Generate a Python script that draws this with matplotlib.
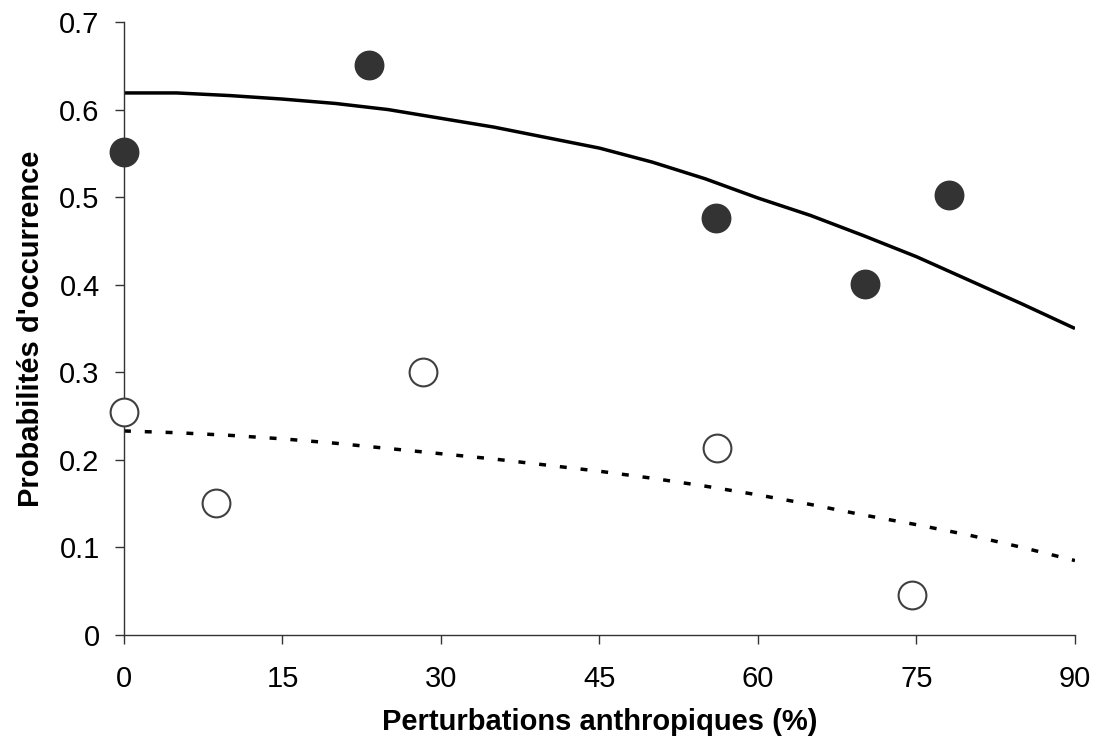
import matplotlib
matplotlib.use("Agg")
import matplotlib.pyplot as plt

# Observed points
filled_x = [0, 23.2, 56.0, 70.1, 78.1]
filled_y = [0.552, 0.651, 0.476, 0.401, 0.502]
open_x = [0, 8.7, 28.3, 56.1, 74.6]
open_y = [0.255, 0.151, 0.300, 0.213, 0.046]

# Fitted curves
solid_x = [0, 5, 10, 15, 20, 25, 30, 35, 40, 45, 50, 55, 60, 65, 70, 75, 80, 85, 90]
solid_y = [0.619, 0.619, 0.616, 0.612, 0.607, 0.600, 0.590, 0.580, 0.568, 0.556,
           0.540, 0.521, 0.499, 0.479, 0.456, 0.432, 0.405, 0.378, 0.350]
dash_x = [0, 5, 10, 15, 20, 25, 30, 35, 40, 45, 50, 55, 60, 65, 70, 75, 80, 85, 90]
dash_y = [0.233, 0.231, 0.228, 0.224, 0.219, 0.213, 0.207, 0.201, 0.194, 0.187,
          0.179, 0.170, 0.160, 0.149, 0.137, 0.126, 0.114, 0.100, 0.085]

xticks = [0, 15, 30, 45, 60, 75, 90]
yticks = [0, 0.1, 0.2, 0.3, 0.4, 0.5, 0.6, 0.7]
ytick_labels = ["0", "0.1", "0.2", "0.3", "0.4", "0.5", "0.6", "0.7"]

plt.rcParams['font.family'] = ['Liberation Sans', 'DejaVu Sans']

fig = plt.figure(figsize=(10.94, 7.46), dpi=100)
ax = fig.add_axes([0.1133, 0.1488, 0.8693, 0.8217])

ax.plot(solid_x, solid_y, color='black', lw=2.5, solid_capstyle='butt', zorder=2)
ax.plot(dash_x, dash_y, color='black', lw=2.5, linestyle=(0, (2.0, 4.0)), zorder=2)

ax.scatter(filled_x, filled_y, s=420, color='#333333', edgecolors='#333333',
           linewidths=1, zorder=3, clip_on=False)
ax.scatter(open_x, open_y, s=400, facecolors='white', edgecolors='#404040',
           linewidths=1.5, zorder=3, clip_on=False)

ax.set_xlim(0, 90)
ax.set_ylim(0, 0.7)
ax.set_xticks(xticks)
ax.set_xticklabels([str(t) for t in xticks])
ax.set_yticks(yticks)
ax.set_yticklabels(ytick_labels)

for s in ['top', 'right']:
    ax.spines[s].set_visible(False)
for s in ['left', 'bottom']:
    ax.spines[s].set_color('#333333')
    ax.spines[s].set_linewidth(1.0)

ax.tick_params(axis='both', direction='out', length=6.5, width=1, color='#333333',
               labelsize=21)
ax.tick_params(axis='x', pad=15)
ax.tick_params(axis='y', pad=11)

ax.set_xlabel("Perturbations anthropiques (%)", fontsize=21, fontweight='bold', labelpad=11)
ax.set_ylabel("Probabilités d'occurrence", fontsize=21, fontweight='bold', labelpad=10)

fig.savefig("out.png", dpi=100)
